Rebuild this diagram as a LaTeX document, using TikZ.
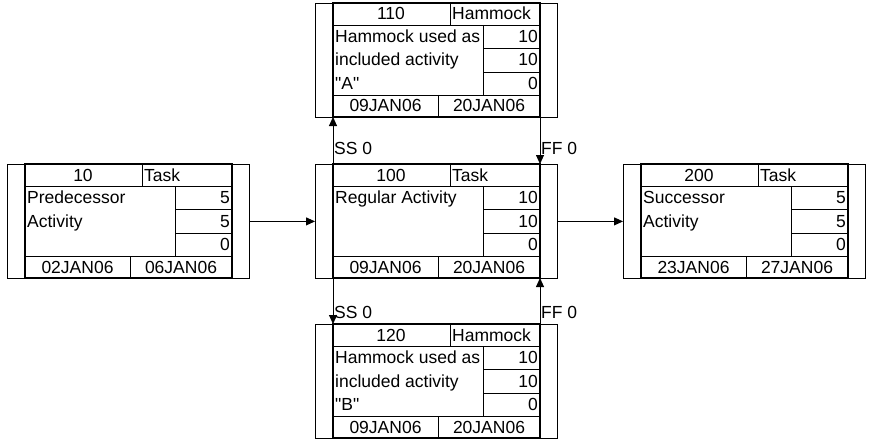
\documentclass[tikz,border=0pt]{standalone}
\usepackage{fontspec}
\setmainfont{Liberation Sans}
\usetikzlibrary{arrows.meta,calc}
\tikzset{
  act-frame/.style={draw=black, line width=0.8pt, minimum width=242pt,
    minimum height=114pt, inner sep=0pt, anchor=north west},
  act-core/.style={draw=black, line width=1.8pt},
  cell-line/.style={draw=black, line width=0.8pt},
  cell-text/.style={font=\fontsize{17.5}{17.5}\selectfont, inner sep=0pt},
  link-arrow/.style={-{Triangle[length=9pt,width=8pt]}, line width=0.9pt, draw=black},
  lag-label/.style={font=\fontsize{17.5}{17.5}\selectfont, inner sep=0pt, anchor=base west}
}
% activity box: name, x, y, id, type, description lines, durations, start, finish
\newcommand{\actbox}[9]{%
  \node[act-frame] (#1) at (#2,#3) {};
  \begin{scope}[shift={(#2,#3)}]
    % inner box and cells
    \draw[act-core] (18,0) rectangle (225,114);
    \draw[cell-line] (18,22) -- (225,22);
    \draw[cell-line] (135,0) -- (135,22);
    \draw[cell-line] (168,22) -- (168,92);
    \draw[cell-line] (168,45) -- (225,45);
    \draw[cell-line] (168,69) -- (225,69);
    \draw[cell-line] (18,92) -- (225,92);
    \draw[cell-line] (123,92) -- (123,114);
    % texts
    \node[cell-text, anchor=base] (#1-id) at (76,17) {#4};
    \node[cell-text, anchor=base west] (#1-type) at (137,17) {#5};
    \foreach \ln [count=\i] in {#6}
      \node[cell-text, anchor=base west] (#1-desc\i) at (20,{16+23.5*\i}) {\ln};
    \foreach \d [count=\i] in {#7}
      \node[cell-text, anchor=base east] (#1-dur\i) at (223,{16+23.5*\i}) {\d};
    \node[cell-text, anchor=base] (#1-start) at (70.5,109) {#8};
    \node[cell-text, anchor=base] (#1-finish) at (174,109) {#9};
    % link points
    \coordinate (#1-tl) at (18,0);
    \coordinate (#1-tr) at (225,0);
    \coordinate (#1-bl) at (18,114);
    \coordinate (#1-br) at (225,114);
  \end{scope}}

\begin{document}
\begin{tikzpicture}[x=1pt, y=-1pt]
\useasboundingbox (0,0) rectangle (869,441);

% Activities
\actbox{pred}{7}{164}{10}{Task}{Predecessor,Activity}{5,5,0}{02JAN06}{06JAN06}
\actbox{reg}{315}{164}{100}{Task}{Regular Activity}{10,10,0}{09JAN06}{20JAN06}
\actbox{hamA}{315}{3}{110}{Hammock}{Hammock used as,included activity,\textquotedbl A\textquotedbl}{10,10,0}{09JAN06}{20JAN06}
\actbox{hamB}{315}{324}{120}{Hammock}{Hammock used as,included activity,\textquotedbl B\textquotedbl}{10,10,0}{09JAN06}{20JAN06}
\actbox{succ}{623}{164}{200}{Task}{Successor,Activity}{5,5,0}{23JAN06}{27JAN06}

% Finish-start links
\draw[link-arrow] (pred.east) -- (reg.west);
\draw[link-arrow] (reg.east) -- (succ.west);

% Hammock links
\draw[link-arrow] (reg-tl) -- (hamA-bl);
\draw[link-arrow] (hamA-br) -- (reg-tr);
\draw[link-arrow] (reg-bl) -- (hamB-tl);
\draw[link-arrow] (hamB-tr) -- (reg-br);

% Lag labels
\node[lag-label] (ssA) at (334,154) {SS 0};
\node[lag-label] (ffA) at (541,154) {FF 0};
\node[lag-label] (ssB) at (334,318) {SS 0};
\node[lag-label] (ffB) at (541,318) {FF 0};
\end{tikzpicture}
\end{document}
